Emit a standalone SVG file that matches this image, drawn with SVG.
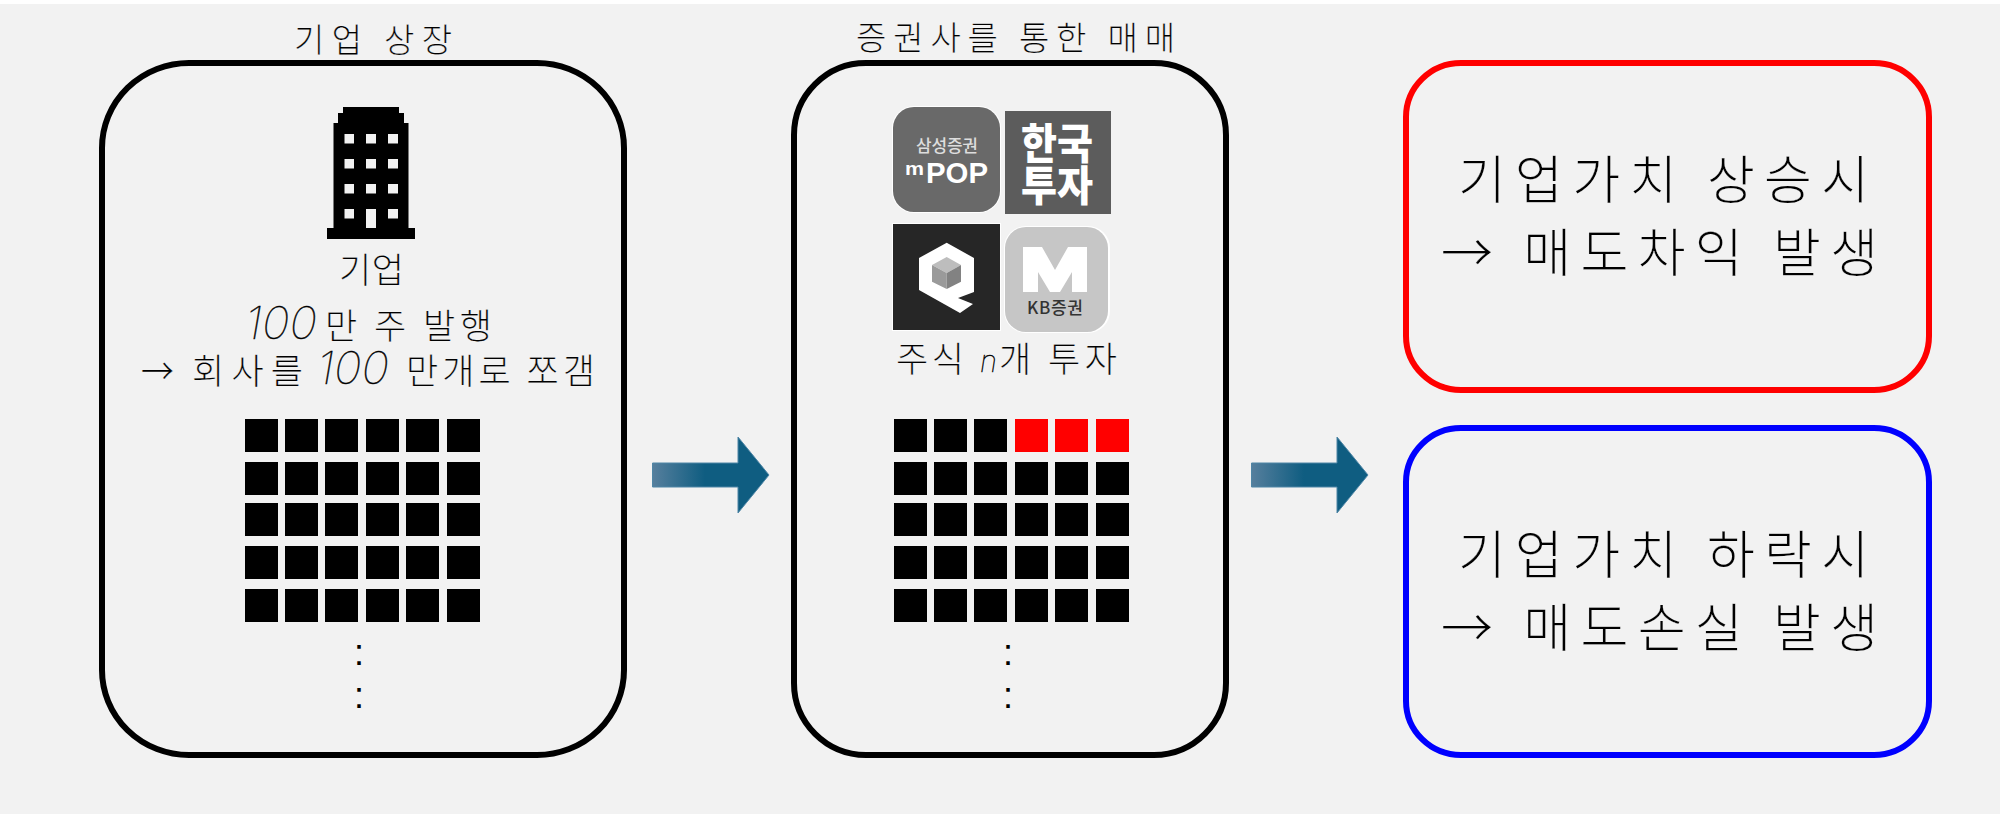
<svg xmlns="http://www.w3.org/2000/svg" width="2000" height="814" viewBox="0 0 2000 814">
<style>
text{font-family:"Noto Sans CJK KR","Noto Sans",sans-serif;fill:#000;}
.h{font-weight:300;stroke:#f2f2f2;stroke-width:.2px;}
.d{font-family:Inter,"Liberation Sans",sans-serif;font-style:italic;font-weight:100;stroke:#000;stroke-width:.4px;}
.t32{font-size:33px}.t35{font-size:35px}.t52{font-size:52px}
.box{fill:none;stroke-width:6px}
.k{fill:#000}.r{fill:#f00}.w{fill:#f2f2f2}
.ar{fill:url(#ag);stroke:#4f86a6;stroke-width:1px}
.dots{font-family:"Liberation Sans",sans-serif;font-size:36px;text-anchor:middle}
.lw{fill:#fff;font-weight:700;text-anchor:middle}
.ll{font-family:"Liberation Sans",sans-serif;fill:#fff;font-weight:700}
</style>
<defs>
<linearGradient id="ag" x1="0" y1="0" x2="1" y2="0"><stop offset="0" stop-color="#567f9d"/><stop offset=".45" stop-color="#0f5d81"/><stop offset="1" stop-color="#0f5d81"/></linearGradient>
<g id="row"><rect x="0" width="33" height="33"/><rect x="40" width="33" height="33"/><rect x="80" width="33" height="33"/><rect x="121" width="33" height="33"/><rect x="161" width="33" height="33"/><rect x="202" width="33" height="33"/></g>
</defs>
<rect width="2000" height="814" fill="#fff"/>
<rect y="4" width="2000" height="810" fill="#f2f2f2"/>

<g id="listing">
<text class="h t32" x="294" y="52" textLength="158">기업 상장</text>
<rect class="box" x="102" y="63" width="522" height="692" rx="87" ry="85" stroke="#000"/>
<g id="building" class="k"><path d="M343 107H399V113H404V123H408.500V228H415V239H327V228H333.500V123H338V113H343Z"/>
<g class="w"><rect x="344.500" y="134" width="9.500" height="9.500"/><rect x="366" y="134" width="10" height="9.500"/><rect x="388" y="134" width="10" height="9.500"/><rect x="344.500" y="159" width="9.500" height="9.500"/><rect x="366" y="159" width="10" height="9.500"/><rect x="388" y="159" width="10" height="9.500"/><rect x="344.500" y="184" width="9.500" height="9.500"/><rect x="366" y="184" width="10" height="9.500"/><rect x="388" y="184" width="10" height="9.500"/><rect x="344.500" y="209" width="9.500" height="9.500"/><rect x="366" y="209" width="10" height="19"/><rect x="388" y="209" width="10" height="9.500"/></g></g>
<text class="h t35" x="339" y="283" textLength="65">기업</text>
<text class="d" x="245" y="339" font-size="45" textLength="72" lengthAdjust="spacingAndGlyphs">100</text>
<text class="h t35" x="325" y="339" textLength="167">만 주 발행</text>
<text class="h t35" x="141" y="384" textLength="33" lengthAdjust="spacingAndGlyphs">→</text>
<text class="h t35" x="192" y="384" textLength="111">회사를</text>
<text class="d" x="317" y="384" font-size="45" textLength="72" lengthAdjust="spacingAndGlyphs">100</text>
<text class="h t35" x="406" y="384" textLength="189">만개로 쪼갬</text>
<g class="k"><use href="#row" x="245" y="419"/><use href="#row" x="245" y="462"/><use href="#row" x="245" y="503"/><use href="#row" x="245" y="546"/><use href="#row" x="245" y="589"/></g>
<text class="dots" x="359" y="664.500">:</text><text class="dots" x="359" y="707.500">:</text>
</g>

<g id="trading">
<text class="h t32" x="856" y="50" textLength="319">증권사를 통한 매매</text>
<rect class="box" x="794" y="63" width="432" height="692" rx="72" ry="72" stroke="#000"/>
<g id="logo-samsung"><rect x="892" y="106" width="109" height="107" rx="22" fill="#fff"/><rect x="893" y="107" width="107" height="105" rx="21" fill="#696969"/>
<text x="947" y="152" font-size="17" text-anchor="middle" style="fill:#ddd;font-weight:500" textLength="62">삼성증권</text>
<text class="ll" x="905" y="175" font-size="19" textLength="19" lengthAdjust="spacingAndGlyphs">m</text>
<text class="ll" x="926" y="183" font-size="29" textLength="62" lengthAdjust="spacingAndGlyphs">POP</text></g>
<g id="logo-koreainvest"><rect x="1005" y="111" width="106" height="103" fill="#5c5c5c"/>
<text class="lw" x="1057" y="159" font-size="42" textLength="72" lengthAdjust="spacingAndGlyphs" style="font-weight:900">한국</text>
<text class="lw" x="1057" y="201" font-size="42" textLength="72" lengthAdjust="spacingAndGlyphs" style="font-weight:900">투자</text></g>
<g id="logo-q"><rect x="892" y="223" width="109" height="108" fill="#fff"/><rect x="893" y="224" width="107" height="106" fill="#262626"/>
<path d="M946.700 242.700L974 258V292L958 298L973 304L960 313L919 290V258Z" fill="#fff"/>
<path d="M946.700 257L961 265L946.700 273L932 265Z" fill="#bdbdbd"/><path d="M932 265L946.700 273V289L932 281.700Z" fill="#9a9a9a"/><path d="M961 265L946.700 273V289L961 281.700Z" fill="#828282"/></g>
<g id="logo-kb"><rect x="1004" y="226" width="106" height="107" rx="22" fill="#fff"/><rect x="1005" y="227" width="103" height="105" rx="21" fill="#c6c6c6"/>
<path d="M1023 247H1042L1055 270L1068 247H1087V292H1072V272L1060 292H1050L1038 272V292H1023Z" fill="#fff"/>
<text x="1055" y="313.500" font-size="17" text-anchor="middle" style="fill:#333;font-weight:500" textLength="56">KB증권</text></g>
<text class="h t35" x="896" y="372" textLength="68">주식</text>
<text class="d" x="980" y="372" font-size="30" textLength="17" lengthAdjust="spacingAndGlyphs">n</text>
<text class="h t35" x="999" y="372" textLength="118">개 투자</text>
<g class="k"><use href="#row" x="894" y="462"/><use href="#row" x="894" y="503"/><use href="#row" x="894" y="546"/><use href="#row" x="894" y="589"/>
<rect x="894" y="419" width="33" height="33"/><rect x="934" y="419" width="33" height="33"/><rect x="974" y="419" width="33" height="33"/></g>
<g class="r"><rect x="1015" y="419" width="33" height="33"/><rect x="1055" y="419" width="33" height="33"/><rect x="1096" y="419" width="33" height="33"/></g>
<text class="dots" x="1008" y="664.500">:</text><text class="dots" x="1008" y="707.500">:</text>
</g>

<g id="connectors">
<path class="ar" d="M652.500 463H738V437L769 475L738 513V487H652.500Z"/>
<path class="ar" d="M1251.500 463H1337V437L1368 475L1337 513V487H1251.500Z"/>
</g>

<g id="gain">
<rect class="box" x="1406" y="63" width="523" height="327" rx="55" ry="54" stroke="#f00"/>
<text class="h t52" x="1458" y="199" textLength="411">기업가치 상승시</text>
<text class="h t52" x="1441" y="272" textLength="437">→ 매도차익 발생</text>
</g>
<g id="loss">
<rect class="box" x="1406" y="428" width="523" height="327" rx="55" ry="54" stroke="#00f"/>
<text class="h t52" x="1458" y="574" textLength="411">기업가치 하락시</text>
<text class="h t52" x="1441" y="647" textLength="437">→ 매도손실 발생</text>
</g>
</svg>
